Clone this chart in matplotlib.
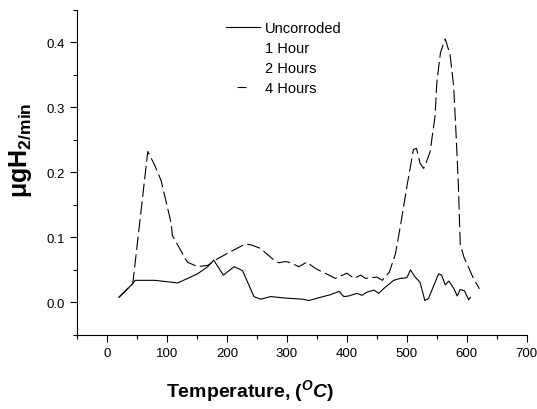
import matplotlib
matplotlib.use("Agg")
import matplotlib.pyplot as plt
from matplotlib.lines import Line2D
from matplotlib.ticker import MultipleLocator, FormatStrFormatter

plt.rcParams["font.family"] = ["Liberation Sans", "DejaVu Sans"]
plt.rcParams["mathtext.fontset"] = "custom"
plt.rcParams["mathtext.rm"] = "Liberation Sans:bold"
plt.rcParams["mathtext.it"] = "Liberation Sans:bold:italic"
plt.rcParams["mathtext.bf"] = "Liberation Sans:bold"

# Uncorroded (solid)
temp_uncorr = [20, 43, 47, 80, 118, 151, 168, 178, 194, 212, 226, 245, 256, 273, 295,
               326, 337, 356, 373, 387, 395, 403, 417, 425, 434, 445, 453, 461, 478, 489,
               500, 506, 514, 522, 530, 536, 544, 553, 558, 564, 570, 578, 584, 589, 596,
               603, 606]
rate_uncorr = [0.008, 0.029, 0.034, 0.034, 0.030, 0.044, 0.055, 0.065, 0.042, 0.055,
               0.049, 0.009, 0.005, 0.009, 0.007, 0.005, 0.003, 0.008, 0.012, 0.017,
               0.009, 0.010, 0.014, 0.011, 0.016, 0.019, 0.014, 0.021, 0.034, 0.037,
               0.038, 0.050, 0.039, 0.031, 0.003, 0.006, 0.024, 0.044, 0.042, 0.027,
               0.033, 0.022, 0.010, 0.020, 0.018, 0.004, 0.008]

# 4 hours (dashed)
temp_4h = [20, 43, 68, 79, 90, 107, 109, 123, 134, 151, 168, 184, 206, 231, 242,
           256, 276, 286, 298, 306, 320, 333, 348, 370, 381, 400, 412, 423, 431, 450,
           459, 471, 481, 489, 500, 511, 516, 522, 528, 531, 539, 542, 547, 550, 556,
           564, 572, 578, 582, 586, 589, 595, 600, 611, 621]
rate_4h = [0.008, 0.029, 0.232, 0.212, 0.188, 0.122, 0.103, 0.080, 0.062, 0.055,
           0.057, 0.067, 0.078, 0.090, 0.088, 0.083, 0.067, 0.061, 0.063, 0.061,
           0.055, 0.062, 0.052, 0.042, 0.037, 0.045, 0.037, 0.042, 0.037, 0.039,
           0.034, 0.047, 0.075, 0.116, 0.178, 0.235, 0.237, 0.214, 0.206, 0.212,
           0.232, 0.253, 0.286, 0.338, 0.384, 0.405, 0.381, 0.333, 0.260, 0.178,
           0.090, 0.070, 0.060, 0.037, 0.021]

legend_labels = ["Uncorroded", "1 Hour", "2 Hours", "4 Hours"]

fig = plt.figure(figsize=(5.37, 4.10), dpi=100)
ax = fig.add_axes([0.1434, 0.1805, 0.8376, 0.7935])

ax.plot(temp_uncorr, rate_uncorr, color="black", lw=0.8)
ax.plot(temp_4h, rate_4h, color="black", lw=0.8, linestyle=(0, (12, 4)))

ax.set_xlim(-50, 700)
ax.set_ylim(-0.05, 0.45)
ax.spines["top"].set_visible(False)
ax.spines["right"].set_visible(False)
ax.xaxis.set_minor_locator(MultipleLocator(50))
ax.yaxis.set_minor_locator(MultipleLocator(0.05))
ax.yaxis.set_major_formatter(FormatStrFormatter("%.1f"))
ax.set_xticks([0, 100, 200, 300, 400, 500, 600, 700])
ax.set_yticks([0.0, 0.1, 0.2, 0.3, 0.4])
ax.tick_params(which="major", direction="out", length=5, width=0.8, labelsize=9.5)
ax.tick_params(which="minor", direction="out", length=3, width=0.8)

ax.set_xlabel(r"Temperature, ($^{O}C$)", fontsize=14, fontweight="bold")
ax.xaxis.set_label_coords(0.384, -0.13)
ax.set_ylabel(r"μgH$_{\mathrm{2/min}}$", fontsize=18, fontweight="bold")
ax.yaxis.set_label_coords(-0.095, 0.57)

handles = [Line2D([], [], color="black", lw=0.8),
           Line2D([], [], color="none"),
           Line2D([], [], color="none"),
           Line2D([], [], color="black", lw=0.8, linestyle=(0, (0, 10, 8, 40)))]
ax.legend(handles, legend_labels, loc="upper left",
          bbox_to_anchor=(226 / 537, 1 - 22 / 410), bbox_transform=fig.transFigure,
          frameon=False, fontsize=10.5, handlelength=2.3, handletextpad=0.35,
          labelspacing=0.42, borderpad=0, borderaxespad=0)

fig.savefig("out.png", dpi=100)
